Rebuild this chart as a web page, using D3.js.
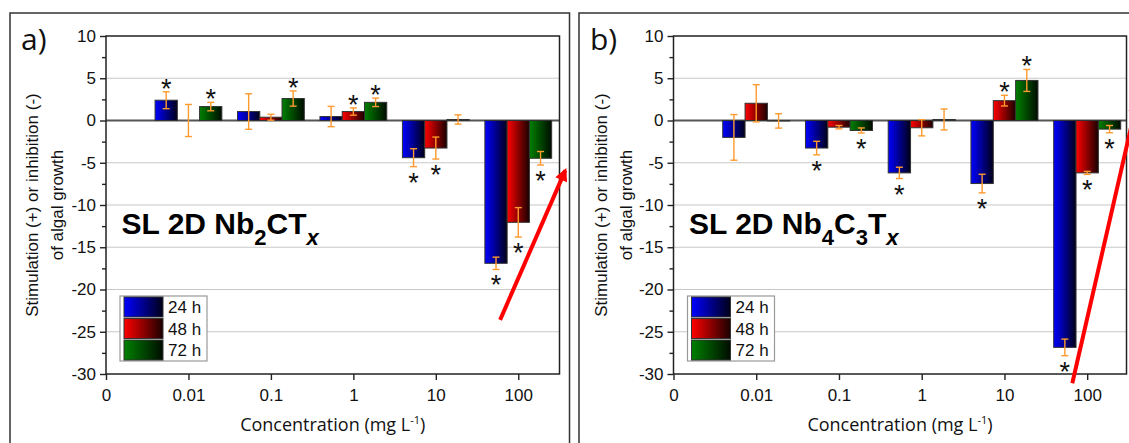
<!DOCTYPE html>
<html>
<head>
<meta charset="utf-8">
<script src="https://cdn.jsdelivr.net/npm/d3@7"></script>
<style>
  body { margin: 0; background: #fff; }
  svg { display: block; }
  .tick text { font-family: "Liberation Sans", Arial, sans-serif; font-size: 17px; fill: #111; }
</style>
</head>
<body>
<div id="chart"></div>
<script>
// categories
var tickLabels = ["0", "0.01", "0.1", "1", "10", "100"];
var concentrations = ["0.01", "0.1", "1", "10", "100"];
var seriesNames = ["24 h", "48 h", "72 h"];
var seriesColors = ["#0000ff", "#ff0000", "#008000"];
var seriesDark = ["#000018", "#1a0000", "#000c00"];
var yTicks = [-30, -25, -20, -15, -10, -5, 0, 5, 10];
var yMinorTicks = [-27.5, -22.5, -17.5, -12.5, -7.5, -2.5, 2.5, 7.5];

// panel a) SL 2D Nb2CTx
var a24 = [2.4, 1.06, 0.47, -4.4, -16.9];
var a48 = [0.0, 0.39, 1.06, -3.26, -12.05];
var a72 = [1.65, 2.6, 2.15, 0.12, -4.47];
var a24err = [1.0, 2.1, 1.2, 1.06, 0.73];
var a48err = [1.9, 0.35, 0.43, 1.3, 1.74];
var a72err = [0.5, 0.9, 0.5, 0.55, 0.8];
var a24sig = [1, 0, 0, 1, 1];
var a48sig = [0, 0, 1, 1, 1];
var a72sig = [1, 1, 1, 0, 1];

// panel b) SL 2D Nb4C3Tx
var b24 = [-2.0, -3.26, -6.2, -7.46, -26.85];
var b48 = [2.04, -0.79, -0.86, 2.35, -6.2];
var b72 = [-0.05, -1.18, 0.12, 4.74, -1.02];
var b24err = [2.7, 0.8, 0.67, 1.1, 0.98];
var b48err = [2.2, 0.2, 0.96, 0.63, 0.18];
var b72err = [0.85, 0.3, 1.24, 1.3, 0.43];
var b24sig = [0, 1, 1, 1, 1];
var b48sig = [0, 0, 0, 1, 1];
var b72sig = [0, 1, 0, 1, 1];

// trend arrows, in data units (x = category index, y = value)
var arrowA = [[4.78, -23.6], [5.57, -5.9]];
var arrowB = [[4.82, -31.1], [5.6, 2.2]];

var W = 1129, H = 443;
var svg = d3.select("#chart").append("svg").attr("width", W).attr("height", H);

var defs = svg.append("defs");
seriesColors.forEach(function(c, i) {
  var g = defs.append("linearGradient").attr("id", "grad" + i)
    .attr("x1", "0%").attr("x2", "100%").attr("y1", "0%").attr("y2", "0%");
  g.append("stop").attr("offset", "0%").attr("stop-color", c);
  g.append("stop").attr("offset", "100%").attr("stop-color", seriesDark[i]);
});
defs.append("marker").attr("id", "arrowhead")
  .attr("viewBox", "0 0 10 10").attr("refX", 8).attr("refY", 5)
  .attr("markerWidth", 3.6).attr("markerHeight", 3.2)
  .attr("markerUnits", "strokeWidth").attr("orient", "auto")
  .append("path").attr("d", "M0,0 L10,5 L0,10 Z").attr("fill", "#ff0000");

var panels = [
  {frameX: 10, label: "a)", left: 106, right: 559.5, xMax: 5.5,
   means: [a24, a48, a72], errs: [a24err, a48err, a72err], sigs: [a24sig, a48sig, a72sig],
   title: [["SL 2D Nb", 0], ["2", 1], ["CT", 0], ["x", 2]], arrow: arrowA},
  {frameX: 579, label: "b)", left: 673.5, right: 1126.5, xMax: 5.475,
   means: [b24, b48, b72], errs: [b24err, b48err, b72err], sigs: [b24sig, b48sig, b72sig],
   title: [["SL 2D Nb", 0], ["4", 1], ["C", 0], ["3", 1], ["T", 0], ["x", 2]], arrow: arrowB}
];

var plotTop = 36, plotBottom = 374;

panels.forEach(function(p) {
  // outer panel frame
  svg.append("rect").attr("x", p.frameX).attr("y", 13)
    .attr("width", 559.5).attr("height", 460)
    .attr("fill", "none").attr("stroke", "#333").attr("stroke-width", 1.5);

  svg.append("text").attr("x", p.frameX + 11).attr("y", 50)
    .attr("font-family", "'Open Sans', sans-serif").attr("font-size", 30)
    .attr("fill", "#111").text(p.label);

  var x = d3.scaleLinear().domain([0, p.xMax]).range([p.left, p.right]);
  var y = d3.scaleLinear().domain([-30, 10]).range([plotBottom, plotTop]);
  var step = x(1) - x(0);
  var bw = step * 0.27;

  var g = svg.append("g");

  // grid lines
  g.selectAll(".grid").data(yTicks.filter(function(v) { return v !== 0 && v !== 10 && v !== -30; }))
    .enter().append("line")
    .attr("x1", p.left).attr("x2", p.right)
    .attr("y1", function(d) { return y(d); }).attr("y2", function(d) { return y(d); })
    .attr("stroke", "#c8c8c8").attr("stroke-width", 1.2);

  g.append("line").attr("x1", p.left).attr("x2", p.right)
    .attr("y1", y(0)).attr("y2", y(0))
    .attr("stroke", "#555").attr("stroke-width", 1.8);

  // bars
  p.means.forEach(function(vals, s) {
    var off = (s - 1) * bw - bw / 2;
    g.selectAll(".bar" + s).data(vals).enter().append("rect")
      .attr("x", function(d, i) { return x(i + 1) + off; })
      .attr("y", function(d) { return Math.min(y(d), y(0)); })
      .attr("width", bw)
      .attr("height", function(d) { return Math.abs(y(d) - y(0)); })
      .attr("fill", "url(#grad" + s + ")")
      .attr("stroke", function(d) { return Math.abs(d) < 0.02 ? "none" : "#333"; })
      .attr("stroke-width", 1);
  });

  // error bars + significance stars
  p.means.forEach(function(vals, s) {
    var off = (s - 1) * bw;
    var errs = p.errs[s], sigs = p.sigs[s];
    vals.forEach(function(d, i) {
      var cx = x(i + 1) + off;
      var y1 = y(d + errs[i]), y2 = y(d - errs[i]);
      var eg = g.append("g").attr("stroke", "#ff9a2e").attr("stroke-width", 1.4);
      eg.append("line").attr("x1", cx).attr("x2", cx).attr("y1", y1).attr("y2", y2);
      eg.append("line").attr("x1", cx - 3.5).attr("x2", cx + 3.5).attr("y1", y1).attr("y2", y1);
      eg.append("line").attr("x1", cx - 3.5).attr("x2", cx + 3.5).attr("y1", y2).attr("y2", y2);
      if (sigs[i]) {
        g.append("text").attr("x", cx)
          .attr("y", d >= 0 ? y1 + 6 : y2 + 25)
          .attr("text-anchor", "middle")
          .attr("font-family", "'Liberation Sans', Arial, sans-serif")
          .attr("font-size", 27).attr("fill", "#111").text("*");
      }
    });
  });

  // title
  var t = g.append("text").attr("x", p.left + 15.5).attr("y", 234)
    .attr("font-family", "'Liberation Sans', Arial, sans-serif")
    .attr("font-weight", "bold").attr("fill", "#000");
  var prev = 0;
  p.title.forEach(function(part) {
    var shift = part[1] ? 11 : 0;
    var ts = t.append("tspan").attr("dy", shift - prev)
      .attr("font-size", part[1] ? 22 : 30).text(part[0]);
    if (part[1] === 2) ts.attr("font-style", "italic");
    prev = shift;
  });

  // plot frame
  g.append("rect").attr("x", p.left).attr("y", plotTop)
    .attr("width", p.right - p.left).attr("height", plotBottom - plotTop)
    .attr("fill", "none").attr("stroke", "#222").attr("stroke-width", 1.5);

  // axes
  g.append("g").attr("transform", "translate(" + p.left + ",0)")
    .call(d3.axisLeft(y).tickValues(yTicks).tickSize(6).tickPadding(4)
      .tickFormat(function(d) { return String(d); }));
  g.append("g").attr("transform", "translate(" + p.left + ",0)")
    .call(d3.axisLeft(y).tickValues(yMinorTicks).tickSize(4).tickFormat(""));
  g.append("g").attr("transform", "translate(0," + plotBottom + ")")
    .call(d3.axisBottom(x).tickValues([0, 1, 2, 3, 4, 5]).tickSize(6).tickPadding(9)
      .tickFormat(function(d) { return tickLabels[d]; }));
  g.selectAll(".domain").remove();
  g.selectAll(".tick line").attr("stroke", "#222").attr("stroke-width", 1.4);

  // axis titles
  var yt = g.append("text").attr("transform", "translate(" + (p.frameX + 28) + "," + ((plotTop + plotBottom) / 2) + ") rotate(-90)")
    .attr("text-anchor", "middle").attr("font-family", "'Liberation Sans', Arial, sans-serif")
    .attr("font-size", 17).attr("fill", "#111");
  yt.append("tspan").attr("x", 0).attr("dy", 0).text("Stimulation (+) or inhibition (-)");
  yt.append("tspan").attr("x", 0).attr("dy", 24.5).text("of algal growth");

  var xt = g.append("text").attr("x", (p.left + p.right) / 2).attr("y", 431)
    .attr("text-anchor", "middle").attr("font-family", "'Open Sans', sans-serif")
    .attr("font-size", 18).attr("fill", "#111");
  xt.append("tspan").text("Concentration (mg L");
  xt.append("tspan").attr("dy", -7).attr("font-size", 11).text("-1");
  xt.append("tspan").attr("dy", 7).text(")");

  // legend
  var lx = p.left + 14, ly = 296;
  var lg = g.append("g").attr("transform", "translate(" + lx + "," + ly + ")");
  lg.append("rect").attr("width", 87).attr("height", 65)
    .attr("fill", "#fff").attr("stroke", "#999").attr("stroke-width", 1.2);
  seriesNames.forEach(function(name, s) {
    lg.append("rect").attr("x", 4).attr("y", 1 + s * 21.5).attr("width", 39).attr("height", 20)
      .attr("fill", "url(#grad" + s + ")").attr("stroke", "#333").attr("stroke-width", 1);
    lg.append("text").attr("x", 48).attr("y", 17 + s * 21.5)
      .attr("font-family", "'Liberation Sans', Arial, sans-serif")
      .attr("font-size", 17).attr("fill", "#111").text(name);
  });

  // red trend arrow
  svg.append("line")
    .attr("x1", x(p.arrow[0][0])).attr("y1", y(p.arrow[0][1]))
    .attr("x2", x(p.arrow[1][0])).attr("y2", y(p.arrow[1][1]))
    .attr("stroke", "#ff0000").attr("stroke-width", 4)
    .attr("marker-end", "url(#arrowhead)");
});
</script>
</body>
</html>
